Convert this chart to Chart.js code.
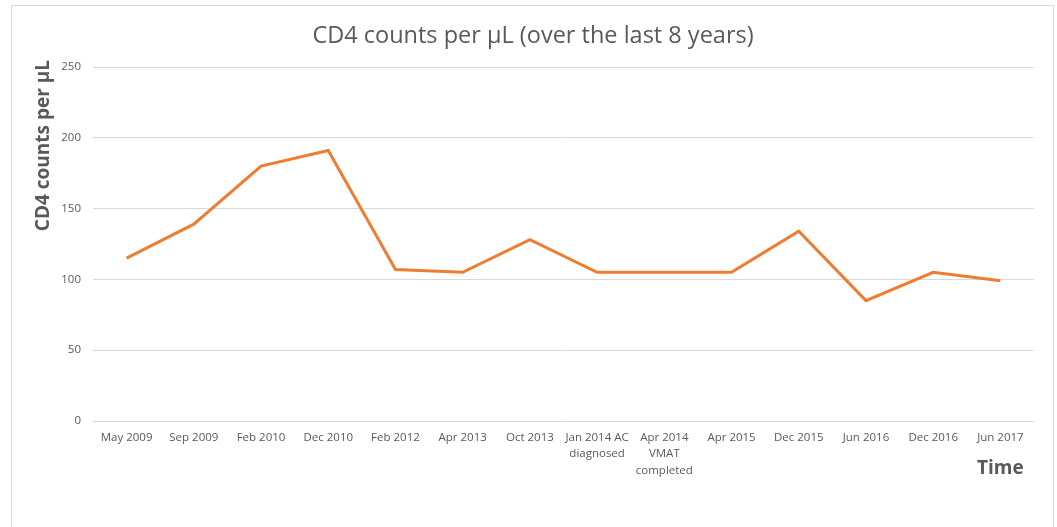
<!DOCTYPE html>
<html>
<head>
<meta charset="utf-8">
<title>CD4 counts</title>
<script src="https://cdn.jsdelivr.net/npm/chart.js@4.4.1/dist/chart.umd.min.js"></script>
<style>
  body { margin: 0; background: #fff; overflow: hidden; }
  #frame { position: absolute; left: 11px; top: 5px; width: 1041px; height: 600px; border: 1px solid #d9d9d9; }
  #wrap { position: absolute; left: 0; top: 0; width: 1057px; height: 527px; }
</style>
</head>
<body>
<div id="frame"></div>
<div id="wrap"><canvas id="cd4"></canvas></div>
<script>
// dates of each blood test (multi-line labels are arrays)
const testDates = [
    'May 2009', 'Sep 2009', 'Feb 2010', 'Dec 2010', 'Feb 2012', 'Apr 2013', 'Oct 2013',
    ['Jan 2014 AC', 'diagnosed'], ['Apr 2014', 'VMAT', 'completed'],
    'Apr 2015', 'Dec 2015', 'Jun 2016', 'Dec 2016', 'Jun 2017'
];
// CD4 cells per microlitre
const cd4Counts = [115, 139, 180, 191, 107, 105, 128, 105, 105, 105, 134, 85, 105, 99];
const yTicks = [0, 50, 100, 150, 200, 250];

const grey = '#595959';
const fontName = '"Open Sans", "Liberation Sans", sans-serif';

// chart title and axis titles drawn by hand so they sit where we want them
const chartTexts = {
    id: 'chartTexts',
    afterDraw(chart) {
        const c = chart.ctx;
        const area = chart.chartArea;
        const xs = chart.scales.x;
        c.save();
        c.fillStyle = grey;
        c.textBaseline = 'middle';
        c.textAlign = 'center';
        c.font = '23.5px ' + fontName;
        c.fillText('CD4 counts per µL (over the last 8 years)', 533, 36);

        c.font = 'bold 19px ' + fontName;
        c.fillText('Time', xs.getPixelForValue(testDates.length - 1), 469);

        c.translate(area.left - 49, area.top - 7);
        c.rotate(-Math.PI / 2);
        c.textAlign = 'right';
        c.fillText('CD4 counts per µL', 0, 0);
        c.restore();
    }
};

const ctx = document.getElementById('cd4').getContext('2d');
const cd4Chart = new Chart(ctx, {
    type: 'line',
    data: {
        labels: testDates,
        datasets: [{
            label: 'CD4 counts per µL',
            data: cd4Counts,
            borderColor: '#ED7D31',
            backgroundColor: '#ED7D31',
            borderWidth: 3,
            pointRadius: 0,
            tension: 0,
            fill: false
        }]
    },
    options: {
        responsive: true,
        maintainAspectRatio: false,
        animation: false,
        devicePixelRatio: 1,
        layout: { padding: { left: 0, right: 23, top: 67, bottom: 0 } },
        plugins: {
            legend: { display: false },
            tooltip: { enabled: false },
            title: { display: false }
        },
        scales: {
            x: {
                offset: true,
                grid: { display: false, drawTicks: false },
                border: { display: false },
                ticks: {
                    color: grey,
                    font: { family: fontName, size: 11.5, lineHeight: 1.4 },
                    padding: 9,
                    maxRotation: 0,
                    autoSkip: false
                },
                afterFit: function (scale) { scale.height = 106; }
            },
            y: {
                min: yTicks[0],
                max: yTicks[yTicks.length - 1],
                grid: { color: '#d9d9d9', drawTicks: false },
                border: { display: false },
                ticks: {
                    stepSize: yTicks[1] - yTicks[0],
                    color: grey,
                    font: { family: fontName, size: 11.5 },
                    padding: 12
                },
                afterFit: function (scale) { scale.width = 93; }
            }
        }
    },
    plugins: [chartTexts]
});
</script>
</body>
</html>
